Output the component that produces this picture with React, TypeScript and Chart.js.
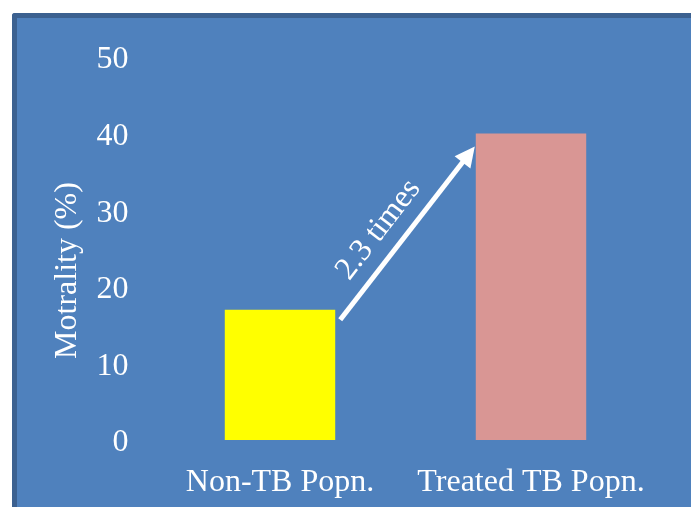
import React, { useEffect, useRef } from "react";
import { Chart, registerables } from "chart.js";

Chart.register(...registerables);

const categories = ["Non-TB Popn.", "Treated TB Popn."];
const mortality = [17, 40];
const barColors = ["#FFFF00", "#D99694"];
const yTicks = [0, 10, 20, 30, 40, 50];
const yTitle = "Motrality (%)";
const arrowFrom = 15.7;
const arrowTo = 38.3;
const arrowLabel = "2.3 times";

const FONT = "'Liberation Serif', 'Times New Roman', serif";
const W = 691;
const H = 507;

const overlayPlugin = {
  id: "overlayPlugin",
  afterDatasetsDraw(chart: any) {
    const meta = chart.getDatasetMeta(0);
    const b0 = meta.data[0] as any;
    const b1 = meta.data[1] as any;
    const y = chart.scales.y;
    const ctx = chart.ctx;
    const area = chart.chartArea;

    // y-axis title
    ctx.save();
    ctx.fillStyle = "#FFFFFF";
    ctx.font = `32px ${FONT}`;
    ctx.textAlign = "center";
    ctx.textBaseline = "middle";
    ctx.translate(y.left - 3, (area.top + area.bottom) / 2 + 22);
    ctx.rotate(-Math.PI / 2);
    ctx.fillText(yTitle, 0, 0);
    ctx.restore();

    // arrow
    const x0 = b0.x + b0.width / 2 + 5;
    const y0 = y.getPixelForValue(arrowFrom);
    const x1 = b1.x - b1.width / 2 - 1;
    const y1 = y.getPixelForValue(arrowTo);
    const ang = Math.atan2(y1 - y0, x1 - x0);
    const headLen = 20;
    const headHalf = 10;
    const bx = x1 - headLen * Math.cos(ang);
    const by = y1 - headLen * Math.sin(ang);
    ctx.save();
    ctx.strokeStyle = "#FFFFFF";
    ctx.fillStyle = "#FFFFFF";
    ctx.lineWidth = 5;
    ctx.beginPath();
    ctx.moveTo(x0, y0);
    ctx.lineTo(bx + 2 * Math.cos(ang), by + 2 * Math.sin(ang));
    ctx.stroke();
    ctx.beginPath();
    ctx.moveTo(x1, y1);
    ctx.lineTo(bx - headHalf * Math.sin(ang), by + headHalf * Math.cos(ang));
    ctx.lineTo(bx + headHalf * Math.sin(ang), by - headHalf * Math.cos(ang));
    ctx.closePath();
    ctx.fill();

    // arrow label
    const mx = (x0 + x1) / 2;
    const my = (y0 + y1) / 2;
    const dx = Math.cos(ang), dy = Math.sin(ang);
    const px = dy, py = -dx;
    const tx = mx - 15 * dx + 25 * px;
    const ty = my - 15 * dy + 25 * py;
    ctx.translate(tx, ty);
    ctx.rotate(ang);
    ctx.font = `32px ${FONT}`;
    ctx.textAlign = "center";
    ctx.textBaseline = "middle";
    ctx.fillText(arrowLabel, 0, 0);
    ctx.restore();
  },
};

export default function App() {
  const ref = useRef<HTMLCanvasElement>(null);
  useEffect(() => {
    const chart = new Chart(ref.current!, {
      type: "bar",
      data: {
        labels: categories,
        datasets: [
          {
            data: mortality,
            backgroundColor: barColors,
            borderWidth: 0,
            barPercentage: 0.44,
            categoryPercentage: 1,
          },
        ],
      },
      options: {
        responsive: false,
        animation: false,
        layout: { padding: { left: 70.5, right: 34.5, top: 57, bottom: -17.4 } },
        plugins: { legend: { display: false }, tooltip: { enabled: false } },
        scales: {
          x: {
            grid: { display: false, drawTicks: false },
            border: { display: false },
            ticks: { color: "#FFFFFF", font: { family: FONT, size: 32 }, padding: 23, maxRotation: 0 },
          },
          y: {
            min: 0,
            max: 50,
            afterBuildTicks: (axis: any) => {
              axis.ticks = yTicks.map((v) => ({ value: v }));
            },
            grid: { display: false, drawTicks: false },
            border: { display: false },
            ticks: { color: "#FFFFFF", font: { family: FONT, size: 32 }, padding: 26, labelOffset: 3 },
          },
        },
      },
      plugins: [overlayPlugin],
    });
    return () => chart.destroy();
  }, []);
  return (
    <div style={{ position: "fixed", left: 0, top: 0, width: W, height: H, background: "#FFFFFF", overflow: "hidden" }}>
      <div
        style={{
          position: "absolute",
          left: 12,
          top: 13,
          width: W,
          height: H,
          background: "#4F81BD",
          borderLeft: "5px solid #3C6190",
          borderTop: "5px solid #3C6190",
          borderTopLeftRadius: 3,
        }}
      />
      <canvas ref={ref} width={W} height={H} style={{ position: "absolute", left: 0, top: 0, display: "block" }} />
    </div>
  );
}
